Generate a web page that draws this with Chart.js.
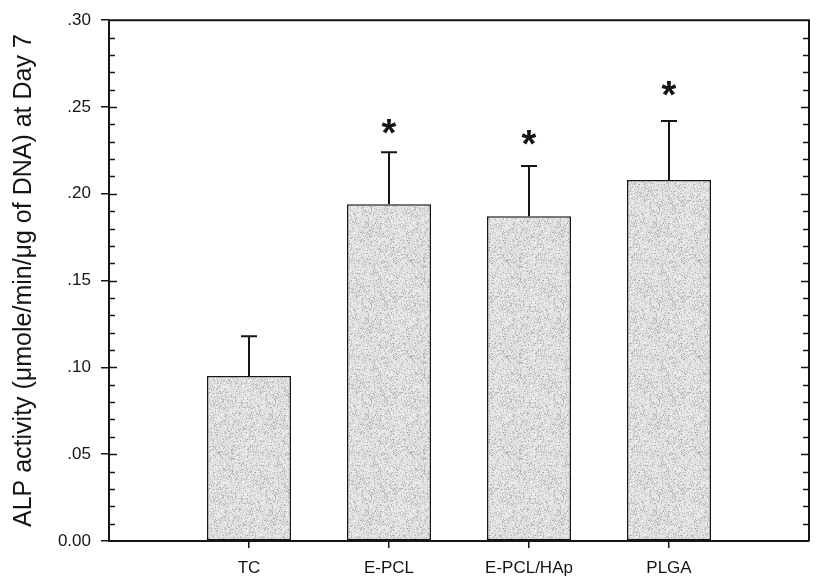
<!DOCTYPE html>
<html>
<head>
<meta charset="utf-8">
<script src="https://cdn.jsdelivr.net/npm/chart.js@4"></script>
<style>
  html, body { margin: 0; padding: 0; background: #fff; }
  #wrap { width: 819px; height: 581px; }
</style>
</head>
<body>
<div id="wrap"><canvas id="alpChart" width="819" height="581"></canvas></div>
<script>
"use strict";

// groups, padded with empty slots so the bars sit at 1..4 on a 0..5 axis
const groups = ["", "TC", "E-PCL", "E-PCL/HAp", "PLGA", ""];
const alpMean = [null, 0.095, 0.194, 0.187, 0.208, null];
const alpSD = [null, 0.023, 0.030, 0.029, 0.034, null];
// height of the significance star (same units as the y axis)
const starY = [null, null, 0.2386, 0.2322, 0.2607, null];
const yTicks = [0, 0.05, 0.1, 0.15, 0.2, 0.25, 0.3];

const FONT = "'Liberation Sans', Arial, sans-serif";
const INK = "#151515";

// stippled grey fill like the printed bars (fixed seed, style only)
function makeStipple() {
  const c = document.createElement("canvas");
  c.width = 96; c.height = 96;
  const g = c.getContext("2d");
  g.fillStyle = "#e4e4e4";
  g.fillRect(0, 0, 96, 96);
  let s = 12345;
  const next = () => { s = (s * 1103515245 + 12345) % 2147483648; return s / 2147483648; };
  for (let y = 0; y < 96; y++) {
    for (let x = 0; x < 96; x++) {
      const r = next();
      if (r < 0.10) { g.fillStyle = "#b0b0b0"; g.fillRect(x, y, 1, 1); }
      else if (r < 0.32) { g.fillStyle = "#cdcdcd"; g.fillRect(x, y, 1, 1); }
      else if (r > 0.90) { g.fillStyle = "#f3f3f3"; g.fillRect(x, y, 1, 1); }
    }
  }
  return g.createPattern(c, "repeat");
}

// error whiskers (upper only), stars, box frame and inner minor ticks
const extras = {
  id: "extras",
  afterDatasetsDraw(chart) {
    const ctx = chart.ctx;
    const y = chart.scales.y;
    const meta = chart.getDatasetMeta(0);
    ctx.save();
    ctx.strokeStyle = INK;
    ctx.lineWidth = 2;
    meta.data.forEach((bar, i) => {
      if (alpMean[i] == null) return;
      const top = y.getPixelForValue(alpMean[i] + alpSD[i]);
      ctx.beginPath();
      ctx.moveTo(bar.x, bar.y);
      ctx.lineTo(bar.x, top);
      ctx.moveTo(bar.x - 8, top);
      ctx.lineTo(bar.x + 8, top);
      ctx.stroke();
      if (starY[i] != null) {
        ctx.fillStyle = INK;
        ctx.font = "bold 38px " + FONT;
        ctx.textAlign = "center";
        ctx.textBaseline = "alphabetic";
        const m = ctx.measureText("*");
        const mid = (m.actualBoundingBoxAscent - m.actualBoundingBoxDescent) / 2;
        ctx.fillText("*", bar.x, y.getPixelForValue(starY[i]) + mid);
      }
    });
    ctx.restore();
  },
  afterDraw(chart) {
    const ctx = chart.ctx;
    const a = chart.chartArea;
    const y = chart.scales.y;
    ctx.save();
    ctx.strokeStyle = INK;
    ctx.lineWidth = 2;
    ctx.beginPath();
    ctx.moveTo(a.left, a.top);
    ctx.lineTo(a.right, a.top);
    ctx.lineTo(a.right, a.bottom);
    ctx.stroke();
    ctx.lineWidth = 1.5;
    ctx.beginPath();
    for (let i = 1; i < 30; i++) {
      const py = Math.round(y.getPixelForValue(i / 100)) + 0.5;
      const len = i % 5 === 0 ? 8 : 6;
      ctx.moveTo(a.left, py); ctx.lineTo(a.left + len, py);
      ctx.moveTo(a.right, py); ctx.lineTo(a.right - len, py);
    }
    ctx.stroke();
    ctx.restore();
  }
};

const config = {
  type: "bar",
  data: {
    labels: groups,
    datasets: [{
      data: alpMean,
      backgroundColor: makeStipple(),
      borderColor: INK,
      borderWidth: 1.5,
      borderSkipped: false,
      categoryPercentage: 1,
      barPercentage: 0.6,
    }],
  },
  options: {
    responsive: false,
    animation: false,
    layout: { padding: { left: 0, right: 2, top: 20, bottom: 0 } },
    plugins: { legend: { display: false }, tooltip: { enabled: false } },
    scales: {
      x: {
        offset: false,
        grid: {
          offset: false,
          drawOnChartArea: false,
          tickLength: 7,
          lineWidth: 1.5,
          color: (c) => (c.index === 0 || c.index === groups.length - 1 ? "rgba(0,0,0,0)" : INK),
        },
        border: { display: true, color: INK, width: 2 },
        ticks: { color: INK, font: { family: FONT, size: 17 }, padding: 10, autoSkip: false, maxRotation: 0 },
        afterFit(s) { s.height = 40; },
      },
      y: {
        min: 0,
        max: 0.3,
        afterBuildTicks(s) { s.ticks = yTicks.map((v) => ({ value: v })); },
        grid: { drawOnChartArea: false, tickLength: 8, lineWidth: 1.5, color: INK },
        border: { display: true, color: INK, width: 2 },
        ticks: {
          color: INK,
          font: { family: FONT, size: 17 },
          padding: 10,
          callback: (v) => (v === 0 ? "0.00" : v.toFixed(2).replace(/^0/, "")),
        },
        title: {
          display: true,
          text: "ALP activity (μmole/min/μg of DNA) at Day 7",
          color: INK,
          font: { family: FONT, size: 25 },
          padding: { top: 9, bottom: 0 },
        },
        afterFit(s) { s.width = 109; },
      },
    },
  },
  plugins: [extras],
};

const alpChart = new Chart(document.getElementById("alpChart"), config);
</script>
</body>
</html>
